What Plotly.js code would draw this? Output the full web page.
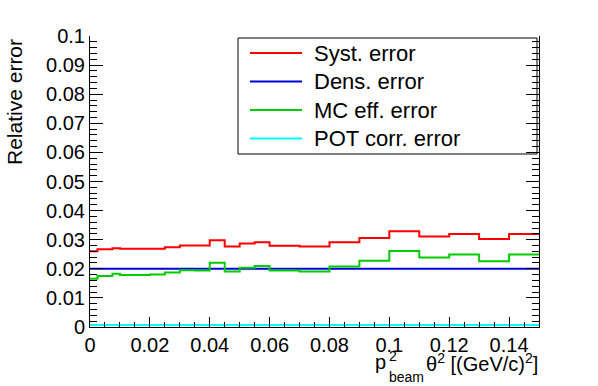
<!DOCTYPE html>
<html>
<head>
<meta charset="utf-8">
<script src="https://cdn.plot.ly/plotly-3.0.1.min.js"></script>
<style>html,body{margin:0;padding:0;background:#fff;}#chart{width:598px;height:386px;}</style>
</head>
<body>
<div id="chart"></div>
<script>
// Bin edges of the histograms (p^2_beam theta^2 [(GeV/c)^2])
const binEdges = [0, 0.0025, 0.005, 0.0075, 0.01, 0.015, 0.02, 0.025, 0.03, 0.035, 0.04, 0.045, 0.05, 0.055, 0.06, 0.07, 0.08, 0.09, 0.1, 0.11, 0.12, 0.13, 0.14, 0.15];

// Relative errors per bin
const systError = [0.0260, 0.0267, 0.0267, 0.0271, 0.0269, 0.0269, 0.0269, 0.0274, 0.0280, 0.0280, 0.0298, 0.0277, 0.0287, 0.0291, 0.0279, 0.0277, 0.0291, 0.0306, 0.0329, 0.0311, 0.0320, 0.0302, 0.0320];
const densError = [0.02, 0.02, 0.02, 0.02, 0.02, 0.02, 0.02, 0.02, 0.02, 0.02, 0.02, 0.02, 0.02, 0.02, 0.02, 0.02, 0.02, 0.02, 0.02, 0.02, 0.02, 0.02, 0.02];
const mcEffError = [0.0166, 0.0175, 0.0175, 0.0183, 0.0179, 0.0179, 0.0180, 0.0187, 0.0195, 0.0194, 0.0221, 0.0191, 0.0204, 0.0210, 0.0194, 0.0191, 0.0208, 0.0228, 0.0261, 0.0239, 0.0249, 0.0226, 0.0249];
const potCorrError = [0.0007, 0.0007, 0.0007, 0.0007, 0.0007, 0.0007, 0.0007, 0.0007, 0.0007, 0.0007, 0.0007, 0.0007, 0.0007, 0.0007, 0.0007, 0.0007, 0.0007, 0.0007, 0.0007, 0.0007, 0.0007, 0.0007, 0.0007];

const seriesNames = ["Syst. error", "Dens. error", "MC eff. error", "POT corr. error"];
const seriesColors = ["#ff0000", "#0000dd", "#00cc00", "#00ffff"];
const seriesValues = [systError, densError, mcEffError, potCorrError];

const FONT = "Liberation Sans, Arial, Helvetica, sans-serif";

const traces = seriesValues.map((vals, i) => ({
  type: "scatter",
  mode: "lines",
  name: seriesNames[i],
  x: binEdges,
  y: vals.concat([vals[vals.length - 1]]),
  line: {shape: "hv", color: seriesColors[i], width: 2},
  showlegend: false,
  hoverinfo: "skip"
}));

// pixel -> paper helpers (plot area: x 90..539, y 36..327)
const L = 90, R = 59, T = 36, B = 59, W = 598, H = 386;
const pw = W - L - R, ph = H - T - B;
const px = X => (X - L) / pw;
const py = Y => (H - B - Y) / ph;

// Legend (box + entries) built from the series names/colours
const legendRowsY = [53, 81.5, 110, 138.5];
const shapes = [
  {type: "rect", xref: "paper", yref: "paper", x0: px(238), x1: px(537), y0: py(154), y1: py(38),
   line: {color: "#000", width: 1}, fillcolor: "#ffffff", layer: "below"}
];
const annotations = [];
seriesNames.forEach((name, i) => {
  shapes.push({type: "line", xref: "paper", yref: "paper",
    x0: px(250), x1: px(302), y0: py(legendRowsY[i]), y1: py(legendRowsY[i]),
    line: {color: seriesColors[i], width: 2}});
  annotations.push({text: name, xref: "paper", yref: "paper",
    x: px(312), y: py(legendRowsY[i]), xanchor: "left", yanchor: "middle", showarrow: false,
    font: {family: FONT, size: 22, color: "#000"}});
});

annotations.push(
  {text: "Relative error", textangle: -90, xref: "paper", yref: "paper",
   x: px(15), y: py(102), xanchor: "center", yanchor: "middle", showarrow: false,
   font: {family: FONT, size: 21, color: "#000"}},
  {text: "θ<sup>2</sup> [(GeV/c)<sup>2</sup>]", xref: "paper", yref: "paper",
   x: px(540), y: py(362), xanchor: "right", yanchor: "middle", showarrow: false,
   font: {family: FONT, size: 20, color: "#000"}},
  {text: "p", xref: "paper", yref: "paper",
   x: px(388), y: py(362), xanchor: "right", yanchor: "middle", showarrow: false,
   font: {family: FONT, size: 20, color: "#000"}},
  {text: "2", xref: "paper", yref: "paper",
   x: px(387), y: py(356), xanchor: "left", yanchor: "middle", showarrow: false,
   font: {family: FONT, size: 14, color: "#000"}},
  {text: "beam", xref: "paper", yref: "paper",
   x: px(387), y: py(377), xanchor: "left", yanchor: "middle", showarrow: false,
   font: {family: FONT, size: 14, color: "#000"}}
);

const layout = {
  width: W, height: H,
  margin: {l: L, r: R, t: T, b: B, pad: 0},
  paper_bgcolor: "#ffffff",
  plot_bgcolor: "#ffffff",
  font: {family: FONT, size: 20, color: "#000"},
  showlegend: false,
  xaxis: {
    range: [0, 0.15], autorange: false,
    showgrid: false, zeroline: false,
    showline: true, linecolor: "#000", linewidth: 1,
    ticks: "inside", ticklen: 10, tickcolor: "#000", tickwidth: 1,
    dtick: 0.02, tick0: 0,
    minor: {dtick: 0.005, ticks: "inside", ticklen: 5, tickcolor: "#000", showgrid: false},
    tickfont: {family: FONT, size: 20, color: "#000"},
    mirror: false
  },
  yaxis: {
    range: [0, 0.1], autorange: false,
    showgrid: false, zeroline: false,
    showline: true, linecolor: "#000", linewidth: 1,
    ticks: "inside", ticklen: 13, tickcolor: "#000", tickwidth: 1,
    dtick: 0.01, tick0: 0,
    minor: {dtick: 0.002, ticks: "inside", ticklen: 7, tickcolor: "#000", showgrid: false},
    tickfont: {family: FONT, size: 20, color: "#000"},
    mirror: "ticks"
  },
  shapes: shapes,
  annotations: annotations
};

Plotly.newPlot("chart", traces, layout, {displayModeBar: false, staticPlot: true});
</script>
</body>
</html>
